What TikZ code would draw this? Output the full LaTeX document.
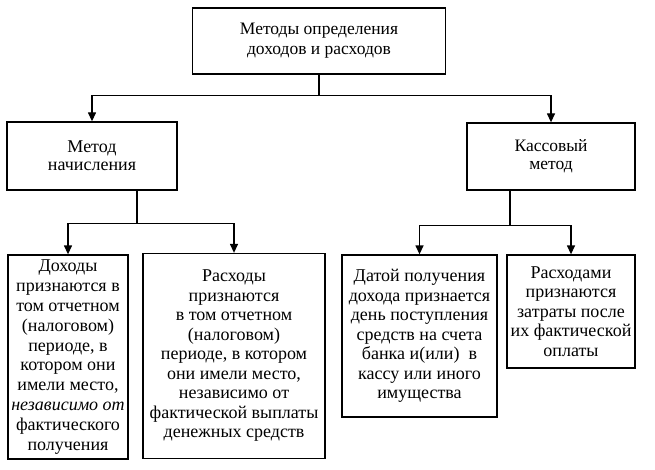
\documentclass[tikz,border=0pt]{standalone}
\usepackage{fontspec}
\setmainfont{Liberation Serif}
\usetikzlibrary{arrows.meta,calc}
\begin{document}
\begin{tikzpicture}[x=1pt,y=-1pt,
  box/.style={draw,line width=1.3pt,align=center,inner sep=0pt,font=\fontsize{18}{19.5}\selectfont},
  arr/.style={-{Triangle[length=9pt,width=8pt]},line width=1.3pt},
  ln/.style={line width=1.3pt}]
\useasboundingbox (0,0) rectangle (655,470);
\node[box,minimum width=253pt,minimum height=66pt,font=\fontsize{17.5}{20}\selectfont] (top) at (319,41) {Методы определения\\доходов и расходов};
\node[box,minimum width=170pt,minimum height=68pt,font=\fontsize{18}{18}\selectfont] (nach) at (92,156) {Метод\\начисления};
\node[box,minimum width=168pt,minimum height=67pt,font=\fontsize{17.5}{18}\selectfont] (kass) at (551,156.5) {Кассовый\\метод};
\node[box,minimum width=120pt,minimum height=204pt,font=\fontsize{18}{19.8}\selectfont] (b1) at (68,357) {Доходы\\признаются в\\том отчетном\\(налоговом)\\периоде, в\\котором они\\имели место,\\\textit{независимо от}\\фактического\\получения};
\node[box,minimum width=182pt,minimum height=205pt] (b2) at (234,356) {Расходы\\признаются\\в том отчетном\\(налоговом)\\периоде, в котором\\они имели место,\\независимо от\\фактической выплаты\\денежных средств};
\node[box,minimum width=155pt,minimum height=162pt] (b3) at (419.5,336) {Датой получения\\дохода признается\\день поступления\\средств на счета\\банка и(или) \ в\\кассу или иного\\имущества};
\node[box,minimum width=128pt,minimum height=113pt] (b4) at (571,311.5) {Расходами\\признаются\\затраты после\\их фактической\\оплаты};
\draw[ln] (top.south) -- ++(0,21) coordinate (j0);
\draw[arr] (j0) -| (nach.north);
\draw[arr] (j0) -| (kass.north);
\draw[ln] ($(nach.south)+(45,0)$) -- ++(0,33) coordinate (j1);
\draw[arr] (j1) -| (b1.north);
\draw[arr] (j1) -| (b2.north);
\draw[ln] ($(kass.south)+(-41,0)$) -- ++(0,35) coordinate (j2);
\draw[arr] (j2) -| (b3.north);
\draw[arr] (j2) -| (b4.north);
\end{tikzpicture}
\end{document}
